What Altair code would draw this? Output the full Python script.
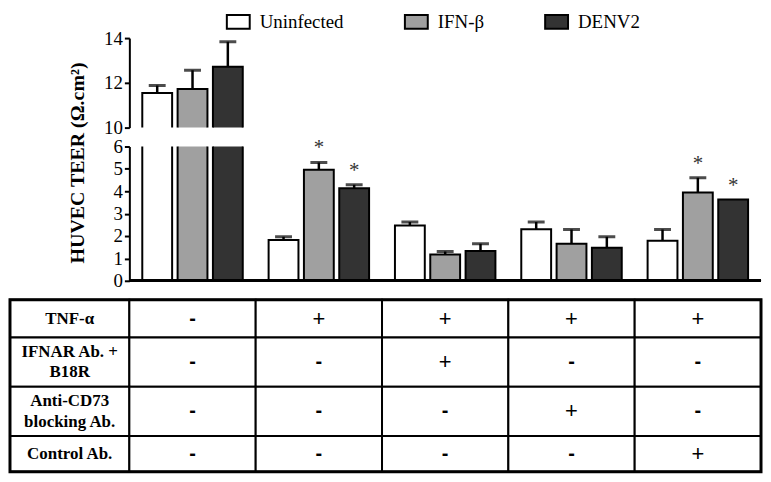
import altair as alt
import pandas as pd

# ---------------- data ----------------
groups = ["Untreated", "TNF-α", "TNF-α + IFNAR Ab. + B18R", "TNF-α + anti-CD73", "TNF-α + control Ab."]
series = ["Uninfected", "IFN-β", "DENV2"]
colors = ["#ffffff", "#a0a0a0", "#333333"]

mean_uninf = [11.55, 1.82, 2.47, 2.30, 1.79]
mean_ifn = [11.73, 4.96, 1.17, 1.65, 3.95]
mean_denv = [12.72, 4.14, 1.33, 1.48, 3.63]
err_uninf = [0.33, 0.15, 0.16, 0.33, 0.50]
err_ifn = [0.83, 0.33, 0.14, 0.64, 0.65]
err_denv = [1.12, 0.15, 0.32, 0.49, 0.0]
sig_uninf = [0, 0, 0, 0, 0]
sig_ifn = [0, 1, 0, 0, 1]
sig_denv = [0, 1, 0, 0, 1]

row_labels = ["TNF-α", "IFNAR Ab. +\nB18R", "Anti-CD73\nblocking Ab.", "Control Ab."]
row_tnf = ["-", "+", "+", "+", "+"]
row_ifnar = ["-", "-", "+", "-", "-"]
row_cd73 = ["-", "-", "-", "+", "-"]
row_ctrl = ["-", "-", "-", "-", "+"]

# ---------------- layout constants ----------------
W = 755
LABEL_COL = 120
ROW_WEIGHTS = [39, 51, 51, 37]
SERIF = "Liberation Serif"
SANS = "Liberation Sans"

# ---------------- build tables ----------------
recs = []
for s, m, e, g_sig in [
    ("Uninfected", mean_uninf, err_uninf, sig_uninf),
    ("IFN-β", mean_ifn, err_ifn, sig_ifn),
    ("DENV2", mean_denv, err_denv, sig_denv),
]:
    for i, g in enumerate(groups):
        recs.append({"group": g, "series": s, "mean": m[i], "top": m[i] + e[i],
                     "err": e[i], "sig": g_sig[i]})
df = pd.DataFrame(recs)

x_enc = alt.X("group:N", sort=groups, axis=None,
              scale=alt.Scale(domain=groups, range=[LABEL_COL, W], paddingInner=0, paddingOuter=0))
xo_enc = alt.XOffset("series:N", sort=series,
                     scale=alt.Scale(domain=series, paddingInner=0.155, paddingOuter=0.366))
fill_enc = alt.Fill("series:N", sort=series,
                    scale=alt.Scale(domain=series, range=colors),
                    legend=alt.Legend(orient="none", legendX=217, legendY=-29, padding=0,
                                      direction="horizontal", title=None,
                                      symbolType="M-1,-0.6H1V0.6H-1Z", symbolSize=529,
                                      symbolStrokeColor="black", symbolStrokeWidth=2,
                                      labelFont=SERIF, labelFontSize=19, labelColor="black",
                                      labelOffset=9, columnPadding=57))

axis_common = dict(domainColor="black", domainWidth=2, tickColor="black", tickWidth=2,
                   tickSize=5, labelFont=SERIF, labelFontSize=19, labelColor="black",
                   labelPadding=2, labelOverlap=False, grid=False, offset=-LABEL_COL)


def bar_panel(domain, ticks, height, lower):
    if lower:
        extra = dict(title="HUVEC TEER (Ω.cm²)", titleFont=SERIF, titleFontSize=20,
                     titleFontWeight="bold", titleColor="black", titleX=-52, titleY=16,
                     titleAngle=270, titleAlign="center", titleBaseline="middle")
    else:
        extra = dict(title=None)
    y_axis = alt.Axis(values=ticks, tickCount=len(ticks), **axis_common, **extra)
    y_scale = alt.Scale(domain=domain, nice=False, zero=False)
    base = alt.Chart(df)
    bars = base.mark_bar(stroke="black", strokeWidth=2, clip=True).encode(
        x=x_enc, xOffset=xo_enc,
        y=alt.Y("mean:Q", scale=y_scale, axis=y_axis),
        y2=alt.Y2(datum=0),
        fill=fill_enc,
    )
    stems = base.transform_filter("datum.err > 0").mark_rule(
        color="black", strokeWidth=2.5, clip=True).encode(
        x=x_enc, xOffset=xo_enc, y=alt.Y("mean:Q", scale=y_scale, axis=y_axis), y2="top:Q")
    caps = base.transform_filter("datum.err > 0").mark_tick(
        color="black", size=17, thickness=3, orient="horizontal", clip=True).encode(
        x=x_enc, xOffset=xo_enc, y=alt.Y("top:Q", scale=y_scale, axis=y_axis))
    layers = [bars, stems, caps]
    if lower:
        stars = base.transform_filter("datum.sig == 1").mark_text(
            text="*", font=SERIF, fontSize=21, color="#333333", baseline="alphabetic",
            dy=-8).encode(
            x=x_enc, xOffset=xo_enc, y=alt.Y("top:Q", scale=y_scale, axis=y_axis))
        xline = base.mark_rule(color="black", strokeWidth=2).encode(
            y=alt.Y(datum=0, scale=y_scale, axis=y_axis),
            x=alt.value(LABEL_COL), x2=alt.value(W))
        layers += [stars, xline]
    return alt.layer(*layers).properties(width=W, height=height)


upper = bar_panel([10, 14], [10, 12, 14], 90, False)
lower = bar_panel([0, 6], [0, 1, 2, 3, 4, 5, 6], 135, True)

# ---------------- table ----------------
label_w = LABEL_COL / ((W - LABEL_COL) / 5)
total = sum(ROW_WEIGHTS)
bounds = [0]
for w in ROW_WEIGHTS:
    bounds.append(bounds[-1] + w)

cells, texts, labels = [], [], []
for r, vals in enumerate([row_tnf, row_ifnar, row_cd73, row_ctrl]):
    y0, y1 = bounds[r], bounds[r + 1]
    cells.append({"x": -label_w, "x2": 0, "y": y0, "y2": y1})
    labels.append({"x": -label_w / 2, "y": (y0 + y1) / 2, "t": row_labels[r],
                   "multi": "\n" in row_labels[r]})
    for c, v in enumerate(vals):
        cells.append({"x": c, "x2": c + 1, "y": y0, "y2": y1})
        texts.append({"x": c + 0.5, "y": (y0 + y1) / 2, "t": v})

tx = alt.Scale(domain=[-label_w, 5], nice=False, zero=False)
ty = alt.Scale(domain=[0, total], nice=False, zero=False, reverse=True)

cell_layer = alt.Chart(pd.DataFrame(cells)).mark_rect(
    fill="white", stroke="black", strokeWidth=2).encode(
    x=alt.X("x:Q", scale=tx, axis=None), x2="x2:Q",
    y=alt.Y("y:Q", scale=ty, axis=None), y2="y2:Q")
outer = alt.Chart(pd.DataFrame([{"x": -label_w, "x2": 5, "y": 0, "y2": total}])).mark_rect(
    filled=False, stroke="black", strokeWidth=3).encode(
    x=alt.X("x:Q", scale=tx, axis=None), x2="x2:Q",
    y=alt.Y("y:Q", scale=ty, axis=None), y2="y2:Q")
ldf = pd.DataFrame(labels)
label_single = alt.Chart(ldf).transform_filter("!datum.multi").mark_text(
    font=SERIF, fontSize=17, fontWeight="bold", color="black", baseline="middle").encode(
    x=alt.X("x:Q", scale=tx, axis=None), y=alt.Y("y:Q", scale=ty, axis=None), text="t:N")
label_multi = alt.Chart(ldf).transform_filter("datum.multi").mark_text(
    font=SERIF, fontSize=17, fontWeight="bold", color="black", lineBreak="\n",
    lineHeight=21, baseline="middle", dy=-10.5).encode(
    x=alt.X("x:Q", scale=tx, axis=None), y=alt.Y("y:Q", scale=ty, axis=None), text="t:N")
tdf = pd.DataFrame(texts)
plus_layer = alt.Chart(tdf).transform_filter("datum.t == '+'").mark_text(
    font=SANS, fontSize=22, color="black", baseline="middle").encode(
    x=alt.X("x:Q", scale=tx, axis=None), y=alt.Y("y:Q", scale=ty, axis=None), text="t:N")
minus_layer = alt.Chart(tdf).transform_filter("datum.t == '-'").mark_text(
    font=SANS, fontSize=20, fontWeight="bold", color="black", baseline="middle").encode(
    x=alt.X("x:Q", scale=tx, axis=None), y=alt.Y("y:Q", scale=ty, axis=None), text="t:N")

table = alt.layer(cell_layer, outer, label_single, label_multi, plus_layer,
                  minus_layer).properties(width=W, height=173)

chart = alt.vconcat(upper, lower, table, spacing=19, bounds="flush").properties(
    padding=0, background="white").configure_view(strokeWidth=0, stroke="transparent")

chart.save("out.html", embed_options={"renderer": "svg", "actions": False})
